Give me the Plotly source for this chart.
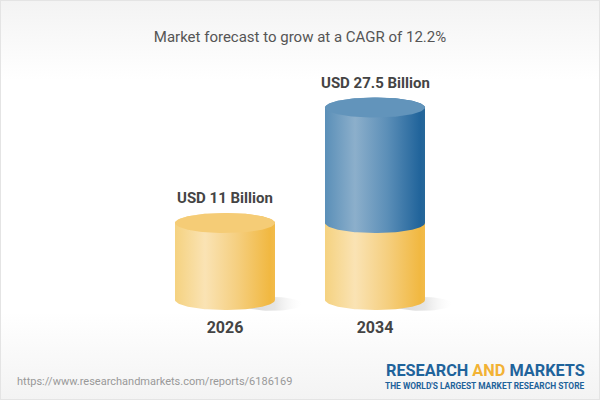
import numpy as np
import plotly.graph_objects as go

# Chart values (USD billion)
years = ["2026", "2034"]
base_values = [11, 11]
growth_values = [0, 16.5]
value_labels = ["USD 11 Billion", "USD 27.5 Billion"]
title_text = "Market forecast to grow at a CAGR of 12.2%"
url_text = "https://www.researchandmarkets.com/reports/6186169"

# Colours
yellow_body = [[0, "#f5d280"], [0.3, "#fae3b4"], [0.62, "#f5cf80"], [0.95, "#f1b841"], [1, "#f2bb4a"]]
blue_body = [[0, "#5a8fb8"], [0.3, "#8cafcb"], [0.62, "#5c8fb8"], [0.95, "#21649b"], [1, "#266799"]]
yellow_cap = "#f5cc76"
blue_cap = "#6294bb"

# Axes are scaled so one x unit is 150px and one y unit (USD bn) is 7px
x_range = [-1.5, 2.5]
y_range = [-100 / 7, 300 / 7]
half_width = 1 / 3
cap_height = 10 / 7

t = np.linspace(0, np.pi, 61)
arc_x = half_width * np.cos(t)
arc_y = cap_height * np.sin(t)


def body(fig, x, y0, y1, colorscale):
    # side of a cylinder: curved bottom edge, straight sides, curved top edge
    xs = np.concatenate([x + arc_x, x + arc_x[::-1]])
    ys = np.concatenate([y0 - arc_y, y1 + arc_y[::-1]])
    fig.add_trace(go.Scatter(x=xs, y=ys, mode="lines", line=dict(width=0), fill="toself",
                             fillgradient=dict(type="horizontal", colorscale=colorscale),
                             hoverinfo="skip"))


def cap(fig, x, y, color):
    xs = np.concatenate([x + arc_x, x - arc_x])
    ys = np.concatenate([y + arc_y, y - arc_y])
    fig.add_trace(go.Scatter(x=xs, y=ys, mode="lines", line=dict(width=0), fill="toself",
                             fillcolor=color, hoverinfo="skip"))


fig = go.Figure()

# Page background
fig.add_trace(go.Scatter(x=[x_range[0], x_range[1], x_range[1], x_range[0], x_range[0]],
                         y=[y_range[0], y_range[0], y_range[1], y_range[1], y_range[0]],
                         mode="lines", line=dict(width=0), fill="toself", hoverinfo="skip",
                         fillgradient=dict(type="vertical", colorscale=[
                             [0, "#f3f3f3"], [0.22, "#ffffff"], [0.8, "#ffffff"], [1, "#f3f3f3"]])))

for i, year in enumerate(years):
    base = base_values[i]
    top = base + growth_values[i]

    # soft shadow to the right of the foot
    fig.add_trace(go.Scatter(x=i + half_width - 0.02 + 0.2 * np.cos(2 * t),
                             y=-0.55 + 1.0 * np.sin(2 * t), mode="lines", line=dict(width=0),
                             fill="toself", hoverinfo="skip",
                             fillgradient=dict(type="horizontal", colorscale=[
                                 [0, "rgba(150,150,150,0.4)"], [0.55, "rgba(170,170,170,0.3)"],
                                 [1, "rgba(235,235,235,0)"]])))

    body(fig, i, 0, base, yellow_body)
    if growth_values[i] > 0:
        body(fig, i, base, top, blue_body)
        cap(fig, i, top, blue_cap)
    else:
        cap(fig, i, top, yellow_cap)

    fig.add_annotation(x=i, y=top, yshift=25, text="<b>" + value_labels[i] + "</b>", showarrow=False,
                       font=dict(family="Roboto", size=15, color="#444444"))

fig.add_annotation(xref="paper", yref="paper", x=0.025, y=0.0475, xanchor="left", yanchor="middle",
                   text=url_text, showarrow=False, font=dict(family="Roboto", size=11, color="#999999"))
fig.add_annotation(xref="paper", yref="paper", x=0.978, y=0.075, xanchor="right", yanchor="middle",
                   text="<b>RESEARCH <span style='color:#f2b234'>AND</span> MARKETS</b>", showarrow=False,
                   font=dict(family="Roboto", size=16.3, color="#1f639b"))
fig.add_annotation(xref="paper", yref="paper", x=0.978, y=0.035, xanchor="right", yanchor="middle",
                   text="<b>THE WORLD'S LARGEST MARKET RESEARCH STORE</b>", showarrow=False,
                   font=dict(family="Roboto", size=8.4, color="#1f639b"))

fig.update_layout(
    width=600, height=400, autosize=False, showlegend=False,
    margin=dict(l=0, r=0, t=0, b=0),
    paper_bgcolor="white", plot_bgcolor="white",
    title=dict(text=title_text, x=0.5, xanchor="center", y=0.9075, yanchor="middle",
               font=dict(family="Roboto", size=15, color="#555555")),
    xaxis=dict(range=x_range, tickvals=list(range(len(years))), ticktext=years,
               anchor="free", position=0.21, showgrid=False, zeroline=False, showline=False, ticks="",
               tickfont=dict(family="Roboto", size=16, color="#444444", weight=700)),
    yaxis=dict(range=y_range, visible=False),
    shapes=[dict(type="rect", xref="paper", yref="paper", x0=0, x1=1, y0=0, y1=1,
                 line=dict(color="#e4e4e4", width=2))],
)

# the browser's default body margin would push the 600x400 figure off the window
fig.write_html("out.html", config=dict(displayModeBar=False),
               post_script="document.body.style.margin = '0';")
